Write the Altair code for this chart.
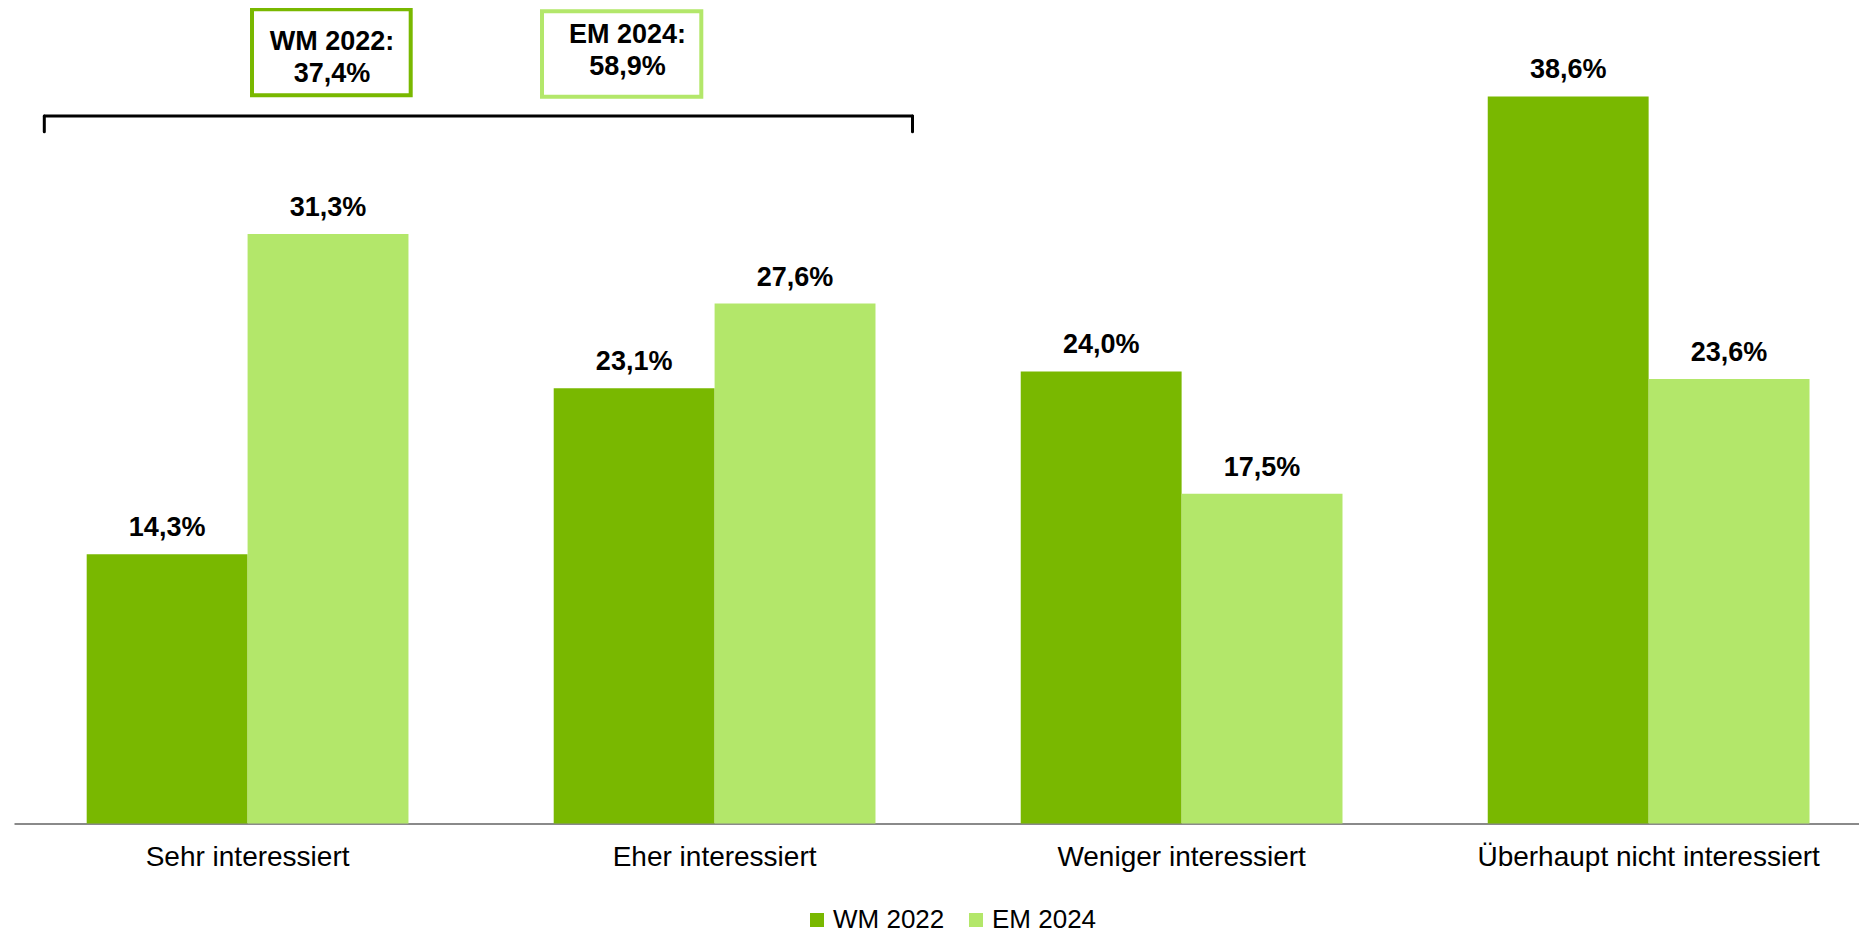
import altair as alt
import pandas as pd

categories = ["Sehr interessiert", "Eher interessiert", "Weniger interessiert",
              "Überhaupt nicht interessiert"]
series = ["WM 2022", "EM 2024"]
wm_2022 = [14.3, 23.1, 24.0, 38.6]
em_2024 = [31.3, 27.6, 17.5, 23.6]
box_titles = ["WM 2022:", "EM 2024:"]
box_values = [37.4, 58.9]

rows = []
for c, w, e in zip(categories, wm_2022, em_2024):
    rows.append({"cat": c, "series": series[0], "value": w})
    rows.append({"cat": c, "series": series[1], "value": e})
df = pd.DataFrame(rows)


def fmt(v):
    return f"{v:.1f}".replace(".", ",") + "%"


df["label"] = df["value"].map(fmt)

FONT = "Liberation Sans"
DARK = "#79b800"
LIGHT = "#b3e76a"

W = 1845
H = 811.5
YMAX = 43.08

x = alt.X("cat:N", sort=categories,
          scale=alt.Scale(paddingInner=0.311, paddingOuter=0.1308, align=0.595),
          axis=alt.Axis(title=None, labelAngle=0, ticks=False, tickSize=0,
                        labelPadding=20, labelFontSize=28, labelFont=FONT,
                        labelColor="#000000", domainColor="#8a8a8a",
                        domainWidth=2, labelLimit=0, grid=False))
xoff = alt.XOffset("series:N", sort=series)
y = alt.Y("value:Q", scale=alt.Scale(domain=[0, YMAX], nice=False, zero=True),
          axis=None)
color = alt.Color("series:N", sort=series,
                  scale=alt.Scale(domain=series, range=[DARK, LIGHT]),
                  legend=alt.Legend(title=None, orient="none", legendX=790,
                                    legendY=895, direction="horizontal",
                                    symbolType="square", symbolSize=196,
                                    symbolStrokeWidth=0, labelFontSize=26,
                                    labelFont=FONT, labelColor="#000000",
                                    labelOffset=3, columnPadding=18, padding=0,
                                    symbolOpacity=1))

base = alt.Chart(df)
bars = base.mark_bar().encode(x=x, xOffset=xoff, y=y, color=color)
labels = base.mark_text(font=FONT, fontSize=27, fontWeight="bold", dy=-18,
                        baseline="alphabetic", color="#000000").encode(
    x=x, xOffset=xoff, y=y, text="label:N")

# annotation boxes
box_df = pd.DataFrame({"title": box_titles,
                       "val": [fmt(v) for v in box_values]})
wm_box = alt.Chart(box_df.iloc[[0]]).mark_rect(
    fill="white", stroke=DARK, strokeWidth=4).encode(
    x=alt.value(238), x2=alt.value(396.7), y=alt.value(-2.7), y2=alt.value(83.3))
em_box = alt.Chart(box_df.iloc[[1]]).mark_rect(
    fill="white", stroke=LIGHT, strokeWidth=4).encode(
    x=alt.value(528), x2=alt.value(687.3), y=alt.value(-0.7), y2=alt.value(84.7))

txt_style = dict(font=FONT, fontSize=27, fontWeight="bold", color="#000000",
                 align="center", baseline="alphabetic")
wm_t1 = alt.Chart(box_df.iloc[[0]]).mark_text(**txt_style).encode(
    x=alt.value(318), y=alt.value(38), text="title:N")
wm_t2 = alt.Chart(box_df.iloc[[0]]).mark_text(**txt_style).encode(
    x=alt.value(318), y=alt.value(69.7), text="val:N")
em_t1 = alt.Chart(box_df.iloc[[1]]).mark_text(**txt_style).encode(
    x=alt.value(613.5), y=alt.value(30.7), text="title:N")
em_t2 = alt.Chart(box_df.iloc[[1]]).mark_text(**txt_style).encode(
    x=alt.value(613.5), y=alt.value(63), text="val:N")

# bracket
rule_style = dict(color="#000000", strokeWidth=3, strokeCap="round")
br_h = alt.Chart(box_df.iloc[[0]]).mark_rule(**rule_style).encode(
    x=alt.value(30.3), x2=alt.value(898.5), y=alt.value(104))
br_l = alt.Chart(box_df.iloc[[0]]).mark_rule(**rule_style).encode(
    x=alt.value(30.3), y=alt.value(104), y2=alt.value(119.7))
br_r = alt.Chart(box_df.iloc[[0]]).mark_rule(**rule_style).encode(
    x=alt.value(898.5), y=alt.value(104), y2=alt.value(119.7))

chart = alt.layer(bars, labels, br_h, br_l, br_r, wm_box, em_box,
                  wm_t1, wm_t2, em_t1, em_t2).properties(
    width=W, height=H,
    background="white",
    autosize=alt.AutoSizeParams(type="none"),
    padding={"left": 6, "top": 4, "right": 0, "bottom": 114},
).configure_view(strokeWidth=0)

chart.save("out.html", embed_options={"renderer": "svg", "actions": False})
